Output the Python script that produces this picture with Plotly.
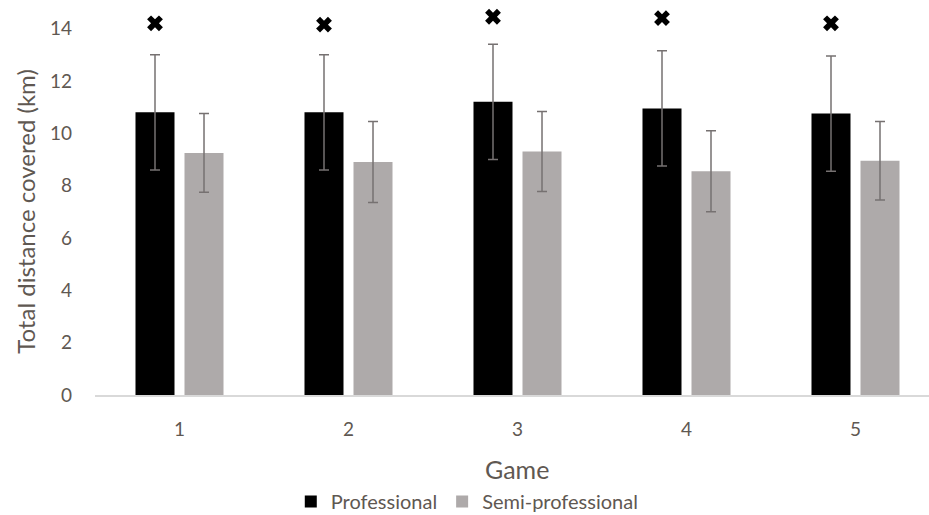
import plotly.graph_objects as go

# Total distance covered per game (km), mean and SD
games = [1, 2, 3, 4, 5]
game_labels = ["1", "2", "3", "4", "5"]
professional = [10.8, 10.8, 11.2, 10.95, 10.75]
professional_sd = [2.2, 2.2, 2.2, 2.2, 2.2]
semi_professional = [9.25, 8.9, 9.3, 8.55, 8.95]
semi_professional_sd = [1.5, 1.55, 1.53, 1.55, 1.5]
# height of the significance mark above each professional bar
significance_y = [14.2, 14.15, 14.45, 14.4, 14.2]
y_ticks = [0, 2, 4, 6, 8, 10, 12, 14]

text_color = "#5f5852"
font_family = "Lato, 'Open Sans', sans-serif"
err_color = "#767171"

px_per_unit = 26.17
y_top = 14.9

fig = go.Figure()
fig.add_trace(go.Bar(
    x=games, y=professional, name="Professional",
    marker=dict(color="#000000", line=dict(width=0)),
    error_y=dict(type="data", array=professional_sd, color=err_color,
                 thickness=1.5, width=5),
))
fig.add_trace(go.Bar(
    x=games, y=semi_professional, name="Semi-professional",
    marker=dict(color="#AEAAAA", line=dict(width=0)),
    error_y=dict(type="data", array=semi_professional_sd, color=err_color,
                 thickness=1.5, width=5),
))

# significance marks above the professional bars
bar_offset = 24.5 / 169
fig.add_trace(go.Scatter(
    x=[g - bar_offset for g in games], y=significance_y,
    mode="markers", showlegend=False, cliponaxis=False, hoverinfo="skip",
    marker=dict(symbol="x", size=14, color="#000000",
                line=dict(width=0)),
))

# y-axis title centred on the 0-14 tick span
fig.add_annotation(
    text="Total distance covered (km)", textangle=-90,
    xref="paper", x=0, xshift=-69, xanchor="center",
    yref="y", y=7, yanchor="middle",
    showarrow=False, font=dict(size=24, color=text_color),
)
# x-axis title
fig.add_annotation(
    text="Game",
    xref="paper", x=0.5, xshift=5, xanchor="center",
    yref="paper", y=0, yshift=-74, yanchor="middle",
    showarrow=False, font=dict(size=25, color=text_color),
)

fig.update_layout(
    width=929, height=515,
    margin=dict(l=95, r=0, t=round(395 - y_top * px_per_unit), b=120),
    paper_bgcolor="white", plot_bgcolor="white",
    barmode="group", bargap=0.42, bargroupgap=0.204,
    font=dict(family=font_family, color=text_color, size=19),
    showlegend=True,
    legend=dict(orientation="h", xref="container", yref="container",
                x=0.503, xanchor="center", y=1 - 482 / 515, yanchor="top",
                font=dict(size=20, color=text_color),
                itemwidth=30, tracegroupgap=0),
)
fig.update_xaxes(
    range=[0.5, 0.5 + 834 / 169],
    tickvals=games, ticktext=game_labels,
    showgrid=False, zeroline=False,
    showline=True, linecolor="#d9d9d9", linewidth=1.5,
    ticks="", ticklabelstandoff=16,
    tickfont=dict(size=19, color=text_color),
)
fig.update_yaxes(
    range=[0, y_top], tickvals=y_ticks,
    showgrid=False, zeroline=False, showline=False,
    ticks="", ticklabelstandoff=22,
    tickfont=dict(size=19, color=text_color),
)

fig.write_html("out.html")
